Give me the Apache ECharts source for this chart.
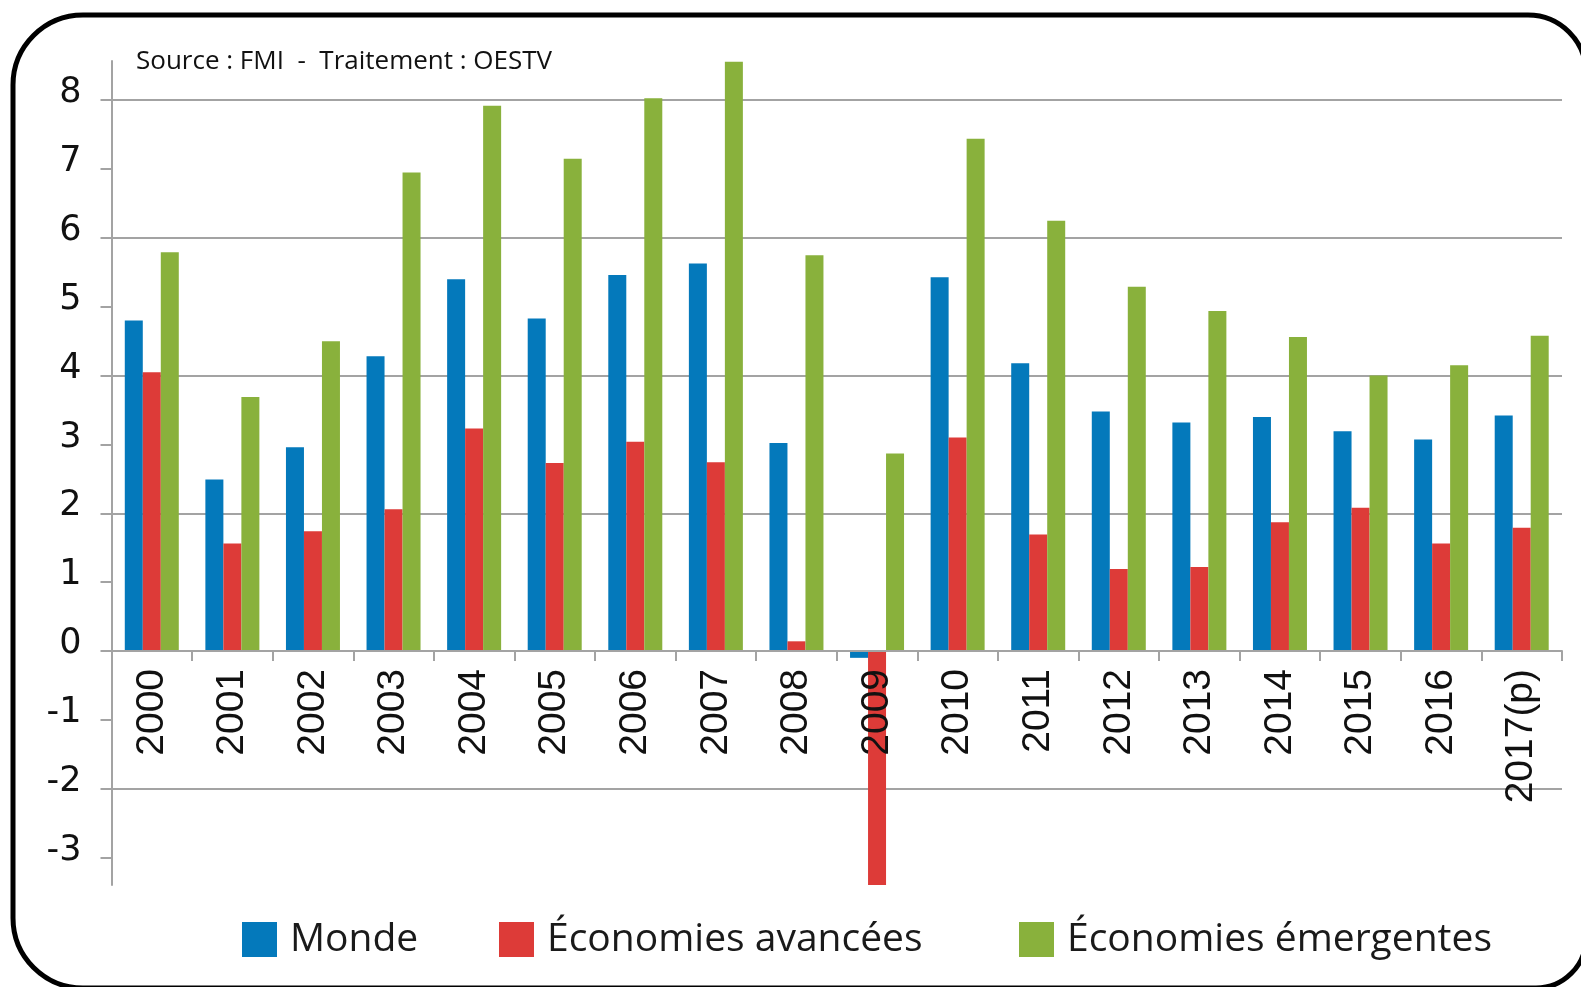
<!DOCTYPE html>
<html>
<head>
<meta charset="utf-8">
<script src="https://cdn.jsdelivr.net/npm/echarts@6/dist/echarts.min.js"></script>
<style>
html,body{margin:0;padding:0;background:#fff;}
#chart{width:1581px;height:987px;}
</style>
</head>
<body>
<div id="chart"></div>
<script>
const categories = ['2000','2001','2002','2003','2004','2005','2006','2007','2008','2009','2010','2011','2012','2013','2014','2015','2016','2017(p)'];
const monde = [4.80, 2.49, 2.96, 4.28, 5.40, 4.83, 5.46, 5.63, 3.02, -0.10, 5.43, 4.18, 3.48, 3.32, 3.40, 3.19, 3.07, 3.42];
const avancees = [4.05, 1.56, 1.74, 2.06, 3.23, 2.73, 3.04, 2.74, 0.14, -3.40, 3.10, 1.69, 1.19, 1.22, 1.87, 2.08, 1.56, 1.79];
const emergentes = [5.79, 3.69, 4.50, 6.95, 7.92, 7.15, 8.03, 8.56, 5.75, 2.87, 7.44, 6.25, 5.29, 4.94, 4.56, 4.00, 4.15, 4.58];
const yTickLabels = [-3, -2, -1, 0, 1, 2, 3, 4, 5, 6, 7, 8];
const yGridValues = [-2, 2, 4, 6, 8];
const seriesNames = ['Monde', 'Économies avancées', 'Économies émergentes'];
const sourceText = 'Source : FMI  -  Traitement : OESTV';

const colors = ['#0479bb', '#dd3b38', '#89b13c'];
const yMin = -3.4, yMax = 8.57;
const gridTop = 61, gridHeight = 824;
// distance of the zero line above the grid bottom, from the axis scale
const zeroOffset = (0 - yMin) / (yMax - yMin) * gridHeight;

const chart = echarts.init(document.getElementById('chart'));
const legendBase = {
  orient: 'horizontal', top: 920, padding: 0, itemWidth: 35, itemHeight: 35,
  icon: 'rect',
  textStyle: {fontFamily: 'Open Sans', fontSize: 39, color: '#1a1a1a', padding: [0,0,0,8]}
};
chart.setOption({
  animation: false,
  color: colors,
  title: {
    text: sourceText, left: 131, top: 44,
    textStyle: {fontFamily: 'Open Sans', fontSize: 26, fontWeight: 'normal', color: '#111'}
  },
  legend: [
    Object.assign({}, legendBase, {left: 242, data: [seriesNames[0]]}),
    Object.assign({}, legendBase, {left: 499, data: [seriesNames[1]]}),
    Object.assign({}, legendBase, {left: 1019, data: [seriesNames[2]]})
  ],
  grid: {left: 111.5, right: 19, top: gridTop, height: gridHeight, containLabel: false, outerBoundsMode: 'none'},
  xAxis: {
    type: 'category', data: categories, position: 'bottom', offset: -zeroOffset, z: 5,
    axisLine: {show: true, onZero: false, lineStyle: {color: '#a3a3a3', width: 2}},
    axisTick: {show: true, length: 10, lineStyle: {color: '#a3a3a3', width: 2}},
    axisLabel: {rotate: 90, margin: 18, interval: 0, fontFamily: 'Liberation Sans', fontSize: 39, color: '#111'},
    splitLine: {show: false}
  },
  yAxis: [
    {
      type: 'value', min: yMin, max: yMax, position: 'left',
      axisLine: {show: true, onZero: false, lineStyle: {color: '#a3a3a3', width: 2}},
      axisTick: {show: true, length: 11, customValues: yTickLabels, lineStyle: {color: '#a3a3a3', width: 2}},
      axisLabel: {customValues: yTickLabels, margin: 30, fontFamily: 'DejaVu Sans', fontSize: 35, color: '#111',
                  verticalAlign: 'bottom', lineHeight: 14},
      splitLine: {show: false}
    },
    {
      type: 'value', min: yMin, max: yMax, position: 'left',
      axisLine: {show: false},
      axisTick: {show: false, customValues: yGridValues},
      axisLabel: {show: false, customValues: yGridValues},
      splitLine: {show: true, lineStyle: {color: '#a3a3a3', width: 2}}
    }
  ],
  series: [
    {name: seriesNames[0], type: 'bar', data: monde, barWidth: 18, barGap: '0%', yAxisIndex: 0},
    {name: seriesNames[1], type: 'bar', data: avancees, barWidth: 18, barGap: '0%', yAxisIndex: 0},
    {name: seriesNames[2], type: 'bar', data: emergentes, barWidth: 18, barGap: '0%', yAxisIndex: 0}
  ],
  graphic: [{
    type: 'rect', silent: true, z: 100,
    shape: {x: 13, y: 15, width: 1573, height: 973, r: [70, 58, 50, 70]},
    style: {fill: 'none', stroke: '#000', lineWidth: 5}
  }]
});
</script>
</body>
</html>
